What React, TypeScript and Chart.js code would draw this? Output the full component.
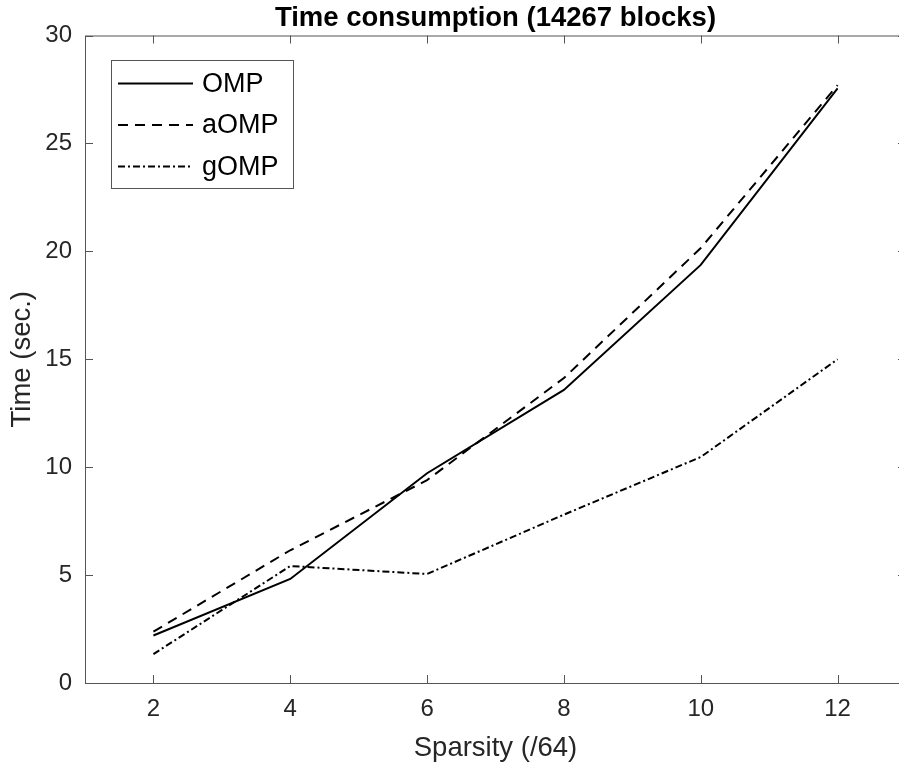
import React, { useEffect, useRef } from "react";
import { Chart, registerables } from "chart.js";

Chart.register(...registerables);

const sparsity = [2, 4, 6, 8, 10, 12];
const ompTime = [2.2, 4.82, 9.72, 13.58, 19.37, 27.55];
const aompTime = [2.38, 6.15, 9.4, 14.13, 20.15, 27.7];
const gompTime = [1.34, 5.42, 5.05, 7.8, 10.47, 15.0];
const seriesNames = ["OMP", "aOMP", "gOMP"];
const seriesDashes: number[][] = [[], [10, 7], [7, 3, 2, 3]];
const xTicks = [2, 4, 6, 8, 10, 12];
const yTicks = [0, 5, 10, 15, 20, 25, 30];
const titleText = "Time consumption (14267 blocks)";
const xLabel = "Sparsity (/64)";
const yLabel = "Time (sec.)";

const FONT = '"Liberation Sans", Arial, Helvetica, sans-serif';
const TEXT = "#262626";
const AXIS = "#555555";

const framePlugin = {
  id: "frame",
  beforeDatasetsDraw(chart: any) {
    const { ctx, chartArea: a, scales } = chart;
    ctx.save();
    ctx.strokeStyle = AXIS;
    ctx.lineWidth = 1;
    ctx.strokeRect(a.left + 0.5, a.top + 0.5, a.right - a.left, a.bottom - a.top);
    const tl = 8;
    ctx.beginPath();
    xTicks.forEach((v) => {
      const px = Math.round(scales.x.getPixelForValue(v)) + 0.5;
      ctx.moveTo(px, a.bottom);
      ctx.lineTo(px, a.bottom - tl);
      ctx.moveTo(px, a.top);
      ctx.lineTo(px, a.top + tl);
    });
    yTicks.forEach((v) => {
      const py = Math.round(scales.y.getPixelForValue(v)) + 0.5;
      ctx.moveTo(a.left, py);
      ctx.lineTo(a.left + tl, py);
      ctx.moveTo(a.right, py);
      ctx.lineTo(a.right - tl, py);
    });
    ctx.stroke();
    ctx.restore();
  },
  afterDraw(chart: any) {
    const { ctx, chartArea: a } = chart;
    ctx.save();
    // title
    ctx.fillStyle = "#000";
    ctx.font = `bold 27.5px ${FONT}`;
    ctx.textAlign = "center";
    ctx.textBaseline = "middle";
    ctx.fillText(titleText, (a.left + a.right) / 2, 18);
    // legend
    const bx = a.left + 26;
    const by = a.top + 24.5;
    const bw = 182;
    const bh = 128;
    ctx.fillStyle = "#fff";
    ctx.fillRect(bx, by, bw, bh);
    ctx.strokeStyle = AXIS;
    ctx.lineWidth = 1;
    ctx.strokeRect(bx + 0.5, by + 0.5, bw, bh);
    ctx.font = `27px ${FONT}`;
    ctx.textAlign = "left";
    ctx.textBaseline = "middle";
    chart.data.datasets.forEach((ds: any, i: number) => {
      const cy = by + 23.5 + i * 41.5;
      ctx.beginPath();
      ctx.strokeStyle = "#000";
      ctx.lineWidth = 2;
      ctx.setLineDash(ds.borderDash || []);
      ctx.moveTo(bx + 7, cy);
      ctx.lineTo(bx + 82, cy);
      ctx.stroke();
      ctx.setLineDash([]);
      ctx.fillStyle = "#000";
      ctx.fillText(ds.label, bx + 91, cy + 1);
    });
    ctx.restore();
  },
};

export default function App() {
  const ref = useRef<HTMLCanvasElement>(null);
  useEffect(() => {
    document.body.style.margin = "0";
    const seriesValues = [ompTime, aompTime, gompTime];
    const chart = new Chart(ref.current as HTMLCanvasElement, {
      type: "line",
      data: {
        datasets: seriesNames.map((name, i) => ({
          label: name,
          data: sparsity.map((x, j) => ({ x, y: seriesValues[i][j] })),
          borderColor: "#000",
          backgroundColor: "#000",
          borderWidth: 2,
          borderDash: seriesDashes[i],
          pointRadius: 0,
          fill: false,
          tension: 0,
        })),
      },
      options: {
        responsive: false,
        animation: false,
        events: [],
        layout: { padding: { top: 35.5, right: 6, left: 0, bottom: 0 } },
        plugins: {
          legend: { display: false },
          title: { display: false },
          tooltip: { enabled: false },
        },
        scales: {
          x: {
            type: "linear",
            min: 1,
            max: 13,
            afterBuildTicks: (s: any) => {
              s.ticks = xTicks.map((v) => ({ value: v }));
            },
            afterFit: (s: any) => {
              s.height = 80;
            },
            grid: { display: false, drawTicks: false },
            border: { display: false },
            ticks: {
              font: { size: 24, family: FONT },
              color: TEXT,
              padding: 12,
              autoSkip: false,
              maxRotation: 0,
            },
            title: {
              display: true,
              text: xLabel,
              color: TEXT,
              font: { size: 27.5, family: FONT, lineHeight: 1 },
              padding: { top: 0, bottom: 1 },
            },
          },
          y: {
            type: "linear",
            min: 0,
            max: 30,
            afterBuildTicks: (s: any) => {
              s.ticks = yTicks.map((v) => ({ value: v }));
            },
            afterFit: (s: any) => {
              s.width = 85;
            },
            grid: { display: false, drawTicks: false },
            border: { display: false },
            ticks: {
              font: { size: 24, family: FONT },
              color: TEXT,
              padding: 13,
            },
            title: {
              display: true,
              text: yLabel,
              color: TEXT,
              font: { size: 27.5, family: FONT, lineHeight: 1 },
              padding: { top: 9, bottom: 0 },
            },
          },
        },
      },
      plugins: [framePlugin],
    } as any);
    return () => chart.destroy();
  }, []);
  return (
    <div style={{ width: 899, height: 763, overflow: "hidden", background: "#fff" }}>
      <canvas ref={ref} width={912} height={763} style={{ display: "block" }} />
    </div>
  );
}
